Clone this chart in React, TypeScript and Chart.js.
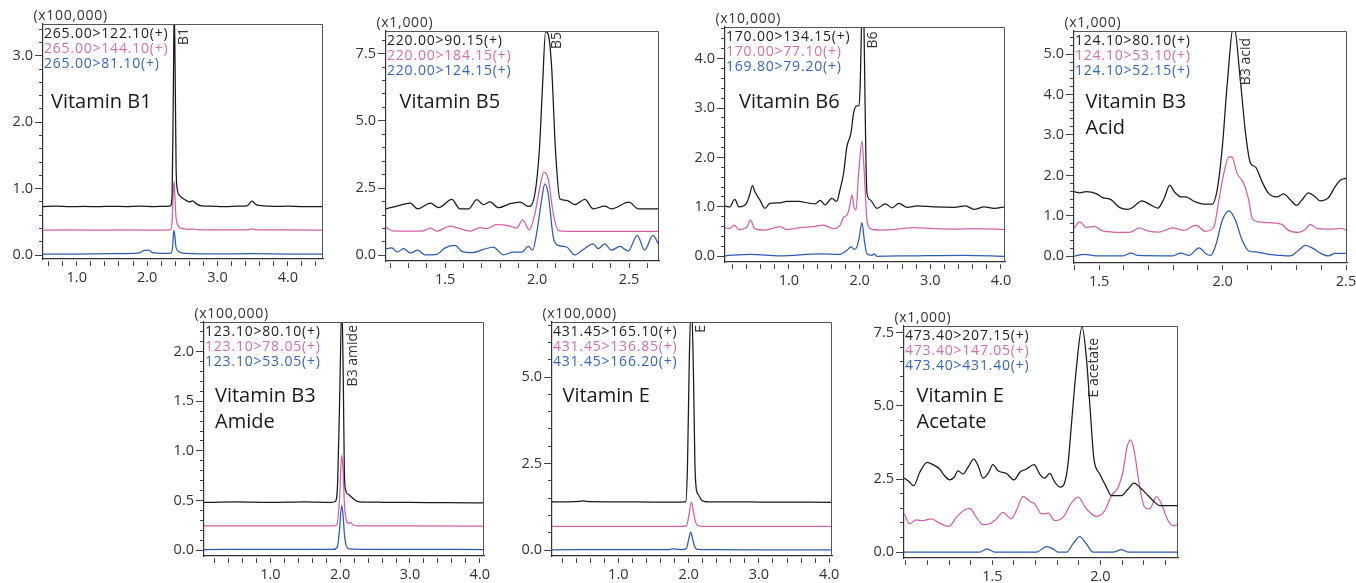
import React, { useEffect, useRef } from 'react';
import { Chart, registerables } from 'chart.js';

Chart.register(...registerables);
Chart.defaults.font.family = "'Open Sans', sans-serif";

type Pt = [number, number];

// ---------- Vitamin B1 (x100,000) ----------
const b1Legend = ['265.00>122.10(+)', '265.00>144.10(+)', '265.00>81.10(+)'];
const b1Black: Pt[] = [[0.52,0.73],[0.7,0.735],[0.9,0.728],[1.1,0.733],[1.3,0.728],[1.5,0.734],[1.7,0.73],[1.9,0.735],[2.1,0.73],[2.25,0.734],[2.33,0.74],[2.355,0.9],[2.372,2.4],[2.385,3.75],[2.398,2.8],[2.412,1.3],[2.43,0.98],[2.46,0.9],[2.5,0.86],[2.56,0.82],[2.6,0.8],[2.65,0.815],[2.7,0.77],[2.78,0.74],[2.9,0.735],[3.1,0.73],[3.3,0.735],[3.42,0.74],[3.49,0.81],[3.55,0.76],[3.65,0.74],[3.8,0.733],[4.0,0.735],[4.2,0.73],[4.5,0.73]];
const b1Pink: Pt[] = [[0.52,0.375],[0.9,0.378],[1.3,0.375],[1.7,0.377],[2.1,0.376],[2.33,0.38],[2.355,0.5],[2.37,0.9],[2.383,1.115],[2.396,0.85],[2.41,0.58],[2.44,0.44],[2.5,0.4],[2.6,0.386],[2.65,0.395],[2.7,0.382],[3.0,0.378],[3.42,0.38],[3.49,0.395],[3.56,0.38],[4.0,0.377],[4.5,0.375]];
const b1Blue: Pt[] = [[0.52,0.012],[1.0,0.015],[1.5,0.02],[1.8,0.025],[1.9,0.035],[1.96,0.07],[2.02,0.072],[2.08,0.035],[2.2,0.025],[2.34,0.03],[2.362,0.12],[2.38,0.37],[2.395,0.28],[2.41,0.12],[2.45,0.05],[2.55,0.025],[3.0,0.017],[3.5,0.02],[4.0,0.015],[4.5,0.015]];

// ---------- Vitamin B5 (x1,000) ----------
const b5Legend = ['220.00>90.15(+)', '220.00>184.15(+)', '220.00>124.15(+)'];
const b5Black: Pt[] = [[1.178,1.73],[1.238,1.83],[1.31,1.94],[1.35,1.73],[1.42,1.94],[1.464,1.77],[1.536,2.08],[1.58,1.73],[1.627,1.73],[1.672,2.07],[1.708,1.89],[1.744,1.99],[1.789,1.77],[1.853,1.92],[1.907,1.98],[1.952,1.82],[1.988,2.29],[2.012,3.9],[2.03,6.37],[2.046,8.32],[2.06,8.23],[2.079,6.99],[2.1,3.9],[2.124,2.1],[2.16,2.04],[2.205,1.89],[2.26,2.08],[2.305,1.73],[2.368,1.83],[2.404,1.73],[2.5,1.98],[2.549,1.73],[2.663,1.73]];
const b5Pink: Pt[] = [[1.178,1.03],[1.22,0.9],[1.373,0.9],[1.42,1.01],[1.455,0.9],[1.527,1.09],[1.572,1.01],[1.636,0.9],[1.69,1.03],[1.726,0.99],[1.78,1.14],[1.853,1.09],[1.889,1.01],[1.921,1.32],[1.957,0.95],[1.988,1.55],[2.015,2.54],[2.037,3.09],[2.06,2.85],[2.088,1.55],[2.115,0.93],[2.16,0.89],[2.663,0.89]];
const b5Blue: Pt[] = [[1.178,0.25],[1.21,0.28],[1.238,0.12],[1.274,0.25],[1.31,0.09],[1.35,0.19],[1.39,0.02],[1.455,0.04],[1.5,0.28],[1.554,0.37],[1.59,0.15],[1.645,0.1],[1.708,0.22],[1.762,0.31],[1.816,0.02],[1.87,0.12],[1.916,0.12],[1.952,0.33],[1.976,0.19],[2.0,0.93],[2.024,2.04],[2.042,2.66],[2.06,2.29],[2.088,0.68],[2.115,0.37],[2.16,0.31],[2.205,0.02],[2.25,0.21],[2.305,0.43],[2.332,0.25],[2.368,0.43],[2.404,0.19],[2.45,0.33],[2.495,0.16],[2.545,0.74],[2.585,0.19],[2.63,0.74],[2.663,0.37]];

// ---------- Vitamin B6 (x10,000) ----------
const b6Legend = ['170.00>134.15(+)', '170.00>77.10(+)', '169.80>79.20(+)'];
const b6Black: Pt[] = [[0.09,1.02],[0.161,1.0],[0.232,1.15],[0.294,1.0],[0.398,1.07],[0.445,1.25],[0.483,1.43],[0.517,1.31],[0.588,1.14],[0.659,0.97],[0.73,1.07],[0.872,1.08],[0.967,1.11],[1.133,1.11],[1.299,1.07],[1.37,1.06],[1.44,1.13],[1.512,1.04],[1.607,1.17],[1.678,1.11],[1.716,1.31],[1.773,1.68],[1.82,2.22],[1.877,2.49],[1.915,2.9],[1.953,3.04],[1.99,3.05],[2.009,3.51],[2.03,4.9],[2.045,5.6],[2.06,4.8],[2.075,3.3],[2.09,1.9],[2.104,1.27],[2.152,1.14],[2.246,0.97],[2.365,1.06],[2.46,0.98],[2.555,1.07],[2.673,0.99],[2.815,1.02],[3.05,1.0],[3.336,0.99],[3.5,1.02],[3.62,0.95],[3.763,1.0],[3.905,0.97],[4.057,1.0]];
const b6Pink: Pt[] = [[0.09,0.58],[0.161,0.56],[0.223,0.63],[0.294,0.54],[0.398,0.58],[0.455,0.73],[0.517,0.56],[0.659,0.53],[0.872,0.6],[0.967,0.54],[1.156,0.58],[1.346,0.6],[1.488,0.63],[1.63,0.56],[1.725,0.63],[1.773,0.79],[1.82,0.83],[1.853,0.97],[1.891,1.24],[1.924,0.97],[1.948,0.94],[1.986,1.68],[2.033,2.33],[2.066,1.68],[2.104,0.73],[2.152,0.56],[2.294,0.53],[2.483,0.54],[2.768,0.58],[3.052,0.56],[3.336,0.55],[3.62,0.56],[4.057,0.54]];
const b6Blue: Pt[] = [[0.09,0.01],[0.455,0.04],[0.872,0.01],[1.44,0.05],[1.725,0.04],[1.82,0.12],[1.877,0.19],[1.924,0.14],[1.962,0.19],[1.995,0.39],[2.033,0.68],[2.066,0.33],[2.104,0.05],[2.175,0.02],[2.2,0.05],[2.246,0.0],[2.77,0.01],[3.48,0.02],[4.057,0.0]];

// ---------- Vitamin B3 Acid (x1,000) ----------
const b3aLegend = ['124.10>80.10(+)', '124.10>53.10(+)', '124.10>52.15(+)'];
const b3aBlack: Pt[] = [[1.398,1.6],[1.421,1.57],[1.448,1.6],[1.488,1.55],[1.515,1.45],[1.548,1.4],[1.582,1.21],[1.616,1.16],[1.636,1.21],[1.673,1.37],[1.703,1.29],[1.737,1.19],[1.763,1.43],[1.786,1.76],[1.804,1.6],[1.831,1.47],[1.851,1.47],[1.884,1.36],[1.925,1.29],[1.958,1.29],[1.978,1.64],[1.999,2.71],[2.019,4.28],[2.045,5.75],[2.073,4.28],[2.093,3.04],[2.113,2.3],[2.133,2.21],[2.16,1.84],[2.187,1.55],[2.22,1.47],[2.247,1.54],[2.274,1.4],[2.3,1.26],[2.321,1.39],[2.348,1.57],[2.375,1.47],[2.395,1.37],[2.429,1.45],[2.456,1.72],[2.476,1.88],[2.504,1.93]];
const b3aPink: Pt[] = [[1.398,0.69],[1.421,0.85],[1.448,0.71],[1.481,0.74],[1.508,0.64],[1.555,0.6],[1.622,0.59],[1.663,0.7],[1.696,0.63],[1.743,0.6],[1.797,0.7],[1.844,0.64],[1.891,0.77],[1.931,0.62],[1.965,0.73],[1.985,1.39],[2.005,2.05],[2.026,2.46],[2.039,2.44],[2.059,2.05],[2.086,1.8],[2.106,1.39],[2.12,0.93],[2.147,0.85],[2.187,0.83],[2.24,0.79],[2.267,0.64],[2.308,0.59],[2.335,0.66],[2.355,0.79],[2.382,0.69],[2.429,0.67],[2.483,0.69],[2.504,0.63]];
const b3aBlue: Pt[] = [[1.398,0.0],[1.441,0.05],[1.488,0.01],[1.595,0.01],[1.629,0.08],[1.656,0.02],[1.797,0.01],[1.831,0.08],[1.864,0.02],[1.905,0.21],[1.931,0.07],[1.952,0.02],[1.972,0.27],[1.999,0.89],[2.026,1.12],[2.052,0.89],[2.079,0.4],[2.106,0.13],[2.133,0.11],[2.187,0.05],[2.24,0.02],[2.274,0.01],[2.308,0.15],[2.335,0.27],[2.368,0.19],[2.395,0.08],[2.429,0.01],[2.456,0.07],[2.504,0.07]];

// ---------- Vitamin B3 Amide (x100,000) ----------
const b3mLegend = ['123.10>80.10(+)', '123.10>78.05(+)', '123.10>53.05(+)'];
const b3mBlack: Pt[] = [[0.05,0.48],[0.5,0.485],[1.0,0.48],[1.5,0.485],[1.85,0.48],[1.93,0.49],[1.965,0.7],[1.995,1.6],[2.024,2.5],[2.045,1.7],[2.06,0.8],[2.08,0.6],[2.12,0.56],[2.17,0.53],[2.22,0.5],[2.28,0.487],[2.6,0.482],[3.0,0.48],[3.5,0.478],[4.06,0.475]];
const b3mPink: Pt[] = [[0.05,0.243],[1.0,0.245],[1.9,0.243],[1.955,0.26],[1.99,0.5],[2.022,0.96],[2.042,0.8],[2.062,0.45],[2.09,0.3],[2.12,0.27],[2.15,0.278],[2.18,0.255],[2.25,0.245],[3.0,0.243],[4.06,0.242]];
const b3mBlue: Pt[] = [[0.05,0.005],[1.0,0.008],[1.9,0.006],[1.96,0.03],[1.99,0.2],[2.022,0.45],[2.042,0.35],[2.062,0.15],[2.09,0.04],[2.13,0.012],[2.5,0.006],[3.0,0.007],[4.06,0.005]];

// ---------- Vitamin E (x100,000) ----------
const eLegend = ['431.45>165.10(+)', '431.45>136.85(+)', '431.45>166.20(+)'];
const eBlack: Pt[] = [[0.057,1.39],[0.3,1.395],[0.45,1.41],[0.5,1.42],[0.6,1.4],[1.0,1.395],[1.5,1.39],[1.9,1.39],[1.96,1.4],[1.985,2.5],[2.01,5.5],[2.04,7.2],[2.07,5.0],[2.09,2.5],[2.11,1.75],[2.14,1.6],[2.18,1.46],[2.22,1.41],[2.3,1.395],[3.0,1.39],[4.04,1.38]];
const ePink: Pt[] = [[0.057,0.685],[1.0,0.687],[1.9,0.685],[1.97,0.7],[2.0,0.95],[2.04,1.39],[2.07,1.1],[2.1,0.8],[2.14,0.7],[2.2,0.688],[3.0,0.686],[4.04,0.685]];
const eBlue: Pt[] = [[0.057,0.01],[1.0,0.012],[1.7,0.012],[1.78,0.035],[1.84,0.03],[1.9,0.015],[1.97,0.05],[2.0,0.3],[2.03,0.52],[2.06,0.3],[2.09,0.08],[2.13,0.02],[2.3,0.012],[3.0,0.01],[4.04,0.01]];

// ---------- Vitamin E Acetate (x1,000) ----------
const eaLegend = ['473.40>207.15(+)', '473.40>147.05(+)', '473.40>431.40(+)'];
const eaBlack: Pt[] = [[1.091,2.53],[1.11,2.44],[1.136,2.27],[1.164,2.73],[1.198,3.07],[1.225,2.99],[1.256,2.84],[1.279,2.61],[1.302,2.47],[1.323,2.56],[1.341,2.78],[1.364,2.67],[1.387,2.9],[1.414,3.18],[1.434,2.95],[1.457,2.53],[1.48,2.69],[1.503,2.99],[1.526,2.78],[1.565,2.69],[1.6,2.47],[1.627,2.73],[1.657,2.84],[1.693,2.99],[1.719,2.67],[1.742,2.53],[1.765,2.69],[1.789,2.39],[1.815,2.22],[1.835,2.39],[1.85,3.01],[1.866,4.38],[1.889,6.31],[1.915,7.7],[1.935,6.65],[1.954,4.72],[1.969,3.24],[1.997,2.67],[2.028,2.22],[2.051,1.93],[2.097,1.93],[2.128,2.16],[2.156,2.36],[2.182,2.22],[2.213,1.99],[2.244,1.76],[2.275,1.59],[2.359,1.59]];
const eaPink: Pt[] = [[1.091,1.33],[1.117,0.97],[1.148,1.1],[1.179,1.08],[1.218,1.14],[1.256,0.99],[1.299,0.88],[1.333,1.19],[1.372,1.45],[1.395,1.5],[1.426,1.19],[1.457,0.94],[1.488,0.97],[1.519,1.14],[1.549,1.36],[1.588,1.14],[1.611,1.42],[1.642,1.91],[1.673,1.74],[1.696,1.65],[1.727,1.31],[1.758,1.33],[1.789,1.08],[1.827,1.19],[1.863,1.65],[1.897,1.88],[1.935,1.48],[1.981,1.22],[2.02,1.42],[2.051,1.93],[2.082,2.22],[2.105,2.78],[2.123,3.58],[2.14,3.84],[2.156,3.47],[2.182,2.22],[2.205,1.53],[2.228,1.48],[2.259,1.9],[2.282,1.65],[2.313,1.08],[2.336,0.91],[2.359,0.93]];
const eaBlue: Pt[] = [[1.091,0],[1.441,0],[1.475,0.11],[1.511,0],[1.704,0],[1.75,0.19],[1.781,0.11],[1.804,0],[1.843,0],[1.873,0.28],[1.904,0.53],[1.935,0.28],[1.966,0],[2.059,0],[2.097,0.09],[2.128,0],[2.359,0]];

const LINE_COLORS = ['#1a1a1a', '#d65fab', '#2b5cb8'];
const TEXT_COLORS = ['#222222', '#d56db2', '#3467c2'];

const YW = 45; // y-axis box width
const XH = 30; // x-axis box height
const PT = 25; // top padding
const PR = 16; // right padding

interface PanelCfg {
  rect: [number, number, number, number];
  x: [number, number, number, number];
  y: [number, number, number, number];
  unit: string;
  title: string[];
  titleDx: number;
  titleDy: number;
  legend: string[];
  series: Pt[][];
  peakT: number;
  peakText: string;
  peakDx: number;
  peakDy: number;
}

const PANELS: PanelCfg[] = [
  { rect: [43, 24, 323, 259], x: [0.52, 4.5, 0.2, 1.0], y: [-0.06, 3.48, 0.2, 1.0], unit: '(x100,000)', title: ['Vitamin B1'], titleDx: 8, titleDy: 84, legend: b1Legend, series: [b1Black, b1Pink, b1Blue], peakT: 2.385, peakText: 'B1', peakDx: 3, peakDy: 4 },
  { rect: [386, 31, 659, 261], x: [1.178, 2.663, 0.1, 0.5], y: [-0.21, 8.34, 0.5, 2.5], unit: '(x1,000)', title: ['Vitamin B5'], titleDx: 13.5, titleDy: 77, legend: b5Legend, series: [b5Black, b5Pink, b5Blue], peakT: 2.048, peakText: 'B5', peakDx: 4, peakDy: 1 },
  { rect: [725, 27, 1005, 262], x: [0.095, 4.057, 0.2, 1.0], y: [-0.116, 4.64, 0.2, 1.0], unit: '(x10,000)', title: ['Vitamin B6'], titleDx: 14, titleDy: 81, legend: b6Legend, series: [b6Black, b6Pink, b6Blue], peakT: 2.045, peakText: 'B6', peakDx: 3.5, peakDy: 4.5 },
  { rect: [1074, 31, 1347, 263], x: [1.398, 2.504, 0.1, 0.5], y: [-0.166, 5.57, 0.2, 1.0], unit: '(x1,000)', title: ['Vitamin B3', 'Acid'], titleDx: 11.5, titleDy: 77, legend: b3aLegend, series: [b3aBlack, b3aPink, b3aBlue], peakT: 2.045, peakText: 'B3 acid', peakDx: 5, peakDy: 7 },
  { rect: [204, 322, 484, 556], x: [0.05, 4.06, 0.2, 1.0], y: [-0.06, 2.3, 0.1, 0.5], unit: '(x100,000)', title: ['Vitamin B3', 'Amide'], titleDx: 11, titleDy: 79.5, legend: b3mLegend, series: [b3mBlack, b3mPink, b3mBlue], peakT: 2.024, peakText: 'B3 amide', peakDx: 4, peakDy: 3 },
  { rect: [552, 322, 832, 556], x: [0.057, 4.04, 0.2, 1.0], y: [-0.17, 6.59, 0.5, 2.5], unit: '(x100,000)', title: ['Vitamin E'], titleDx: 10.5, titleDy: 79.5, legend: eLegend, series: [eBlack, ePink, eBlue], peakT: 2.04, peakText: 'E', peakDx: 3, peakDy: 3 },
  { rect: [904, 326, 1178, 558], x: [1.091, 2.359, 0.1, 0.5], y: [-0.2, 7.73, 0.5, 2.5], unit: '(x1,000)', title: ['Vitamin E', 'Acetate'], titleDx: 12.5, titleDy: 75.5, legend: eaLegend, series: [eaBlack, eaPink, eaBlue], peakT: 1.915, peakText: 'E acetate', peakDx: 4.5, peakDy: 12 },
];

const isMultiple = (v: number, step: number) => Math.abs(v / step - Math.round(v / step)) < 1e-6;

const decoPlugin = {
  id: 'deco',
  afterDatasetsDraw(chart: any, _args: any, opts: any) {
    const cfg: PanelCfg = opts.cfg;
    if (!cfg) return;
    const { ctx, chartArea: a } = chart;
    const xs = chart.scales.x;
    ctx.save();
    // frame top & right
    ctx.strokeStyle = '#555';
    ctx.lineWidth = 1;
    ctx.beginPath();
    ctx.moveTo(a.left, Math.round(a.top) + 0.5);
    ctx.lineTo(Math.round(a.right) - 0.5, Math.round(a.top) + 0.5);
    ctx.lineTo(Math.round(a.right) - 0.5, a.bottom);
    ctx.stroke();

    // unit label
    ctx.textAlign = 'left';
    ctx.textBaseline = 'alphabetic';
    ctx.font = "14px 'Open Sans'";
    (ctx as any).letterSpacing = '0.7px';
    ctx.fillStyle = '#333';
    ctx.fillText(cfg.unit, a.left - 9.5, a.top - 4);

    // legend
    (ctx as any).letterSpacing = '0.8px';
    cfg.legend.forEach((s, i) => {
      ctx.fillStyle = TEXT_COLORS[i];
      ctx.fillText(s, a.left + 1, a.top + 13.5 + i * 15.3);
    });

    // title
    (ctx as any).letterSpacing = '0px';
    ctx.font = "20px 'Open Sans'";
    ctx.fillStyle = '#1a1a1a';
    cfg.title.forEach((s, i) => {
      ctx.fillText(s, a.left + cfg.titleDx, a.top + cfg.titleDy + i * 26);
    });

    // peak label (rotated)
    const px = xs.getPixelForValue(cfg.peakT) + cfg.peakDx;
    ctx.translate(px, a.top + cfg.peakDy);
    ctx.rotate(-Math.PI / 2);
    ctx.font = "14px 'Open Sans'";
    ctx.fillStyle = '#333';
    ctx.textAlign = 'right';
    ctx.textBaseline = 'top';
    ctx.fillText(cfg.peakText, 0, 0);
    ctx.restore();
  },
};

function Panel({ cfg }: { cfg: PanelCfg }) {
  const ref = useRef<HTMLCanvasElement>(null);
  const [l, t, r, b] = cfg.rect;
  const w = r - l + YW + PR;
  const h = b - t + PT + XH;
  useEffect(() => {
    if (!ref.current) return;
    const [xmin, xmax, xminor, xmajor] = cfg.x;
    const [ymin, ymax, yminor, ymajor] = cfg.y;
    const chart = new Chart(ref.current, {
      type: 'line',
      data: {
        datasets: cfg.series.map((s, i) => ({
          data: s as any,
          borderColor: LINE_COLORS[i],
          borderWidth: 1.25,
          pointRadius: 0,
          fill: false,
          cubicInterpolationMode: 'monotone' as const,
        })),
      },
      options: {
        animation: false,
        responsive: false,
        events: [],
        layout: { padding: { left: 0, top: PT, right: PR, bottom: 0 } },
        plugins: {
          legend: { display: false },
          tooltip: { enabled: false },
          deco: { cfg },
        } as any,
        scales: {
          x: {
            type: 'linear',
            min: xmin,
            max: xmax,
            border: { color: '#333', width: 1.2 },
            grid: {
              drawOnChartArea: false,
              tickLength: 7,
              tickColor: '#444',
              tickBorderDash: [5, 2],
              tickBorderDashOffset: 5,
            },
            ticks: {
              stepSize: xminor,
              includeBounds: false,
              autoSkip: false,
              maxRotation: 0,
              minRotation: 0,
              padding: 3,
              color: '#333',
              font: { size: 14.5 },
              callback: (v: any) => (isMultiple(Number(v), xmajor) ? Number(v).toFixed(1) : ''),
            },
            afterFit: (s: any) => { s.height = XH; },
          },
          y: {
            type: 'linear',
            min: ymin,
            max: ymax,
            border: { color: '#333', width: 1.2 },
            grid: {
              drawOnChartArea: false,
              tickLength: 8,
              tickColor: '#444',
              tickBorderDash: (c: any) => (c.tick && isMultiple(c.tick.value, ymajor) ? [] : [4, 4]),
              tickBorderDashOffset: (c: any) => (c.tick && isMultiple(c.tick.value, ymajor) ? 0 : 4),
            },
            ticks: {
              stepSize: yminor,
              includeBounds: false,
              autoSkip: false,
              padding: 2,
              color: '#333',
              font: { size: 14.5 },
              callback: (v: any) => (isMultiple(Number(v), ymajor) ? Number(v).toFixed(1) : ''),
            },
            afterFit: (s: any) => { s.width = YW; },
          },
        },
      } as any,
      plugins: [decoPlugin],
    });
    return () => chart.destroy();
  }, [cfg]);
  return (
    <canvas
      ref={ref}
      width={w}
      height={h}
      style={{ position: 'absolute', left: l - YW, top: t - PT, width: w, height: h }}
    />
  );
}

export default function App() {
  return (
    <div style={{ position: 'absolute', left: 0, top: 0, width: 1356, height: 583, overflow: 'hidden', background: '#fff' }}>
      {PANELS.map((p, i) => (
        <Panel key={i} cfg={p} />
      ))}
    </div>
  );
}
